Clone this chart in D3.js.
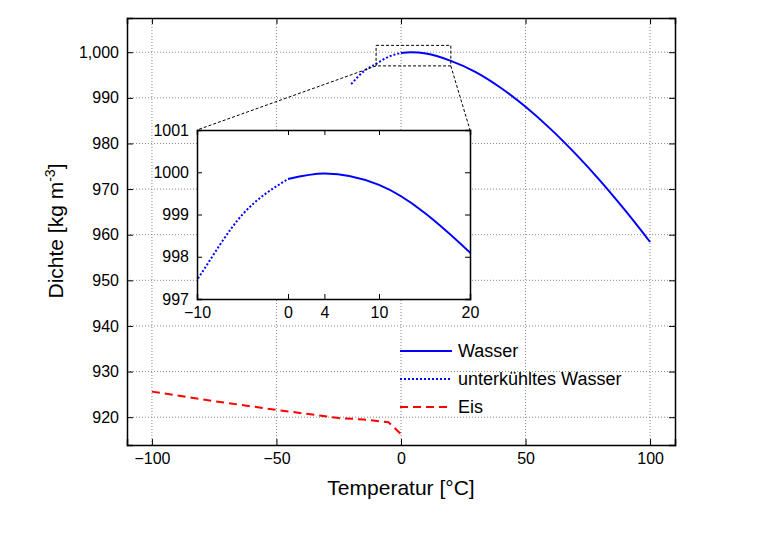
<!DOCTYPE html>
<html><head><meta charset="utf-8">
<script src="https://cdn.jsdelivr.net/npm/d3@7"></script>
<style>body{margin:0;background:#fff}text{font-family:"Liberation Sans",Arial,sans-serif}</style>
</head><body><svg id="c" width="765" height="542"></svg>
<script>
// data
const waterT = [0, 4, 10, 20, 30, 40, 50, 60, 70, 80, 90, 100];
const waterRho = [999.84, 999.97, 999.7, 998.1, 995.65, 992.22, 988.04, 983.2, 977.76, 971.8, 965.31, 958.4];
const superT = [-20, -15, -10, -5, 0];
const superRho = [993.0, 995.8, 997.45, 999.0, 999.84];
const iceT = [-100, -75, -50, -25, -15, -5, 0];
const iceRho = [925.6, 923.5, 921.6, 919.8, 919.5, 918.9, 916.3];
const xTicks = [-100, -50, 0, 50, 100];
const yTicks = [920, 930, 940, 950, 960, 970, 980, 990, 1000];
const insetXTicks = [-10, 0, 4, 10, 20];
const insetYTicks = [997, 998, 999, 1000, 1001];

const svg = d3.select("#c");
const blue = "#0000ff", red = "#ff0000";

const x = d3.scaleLinear().domain([-110, 110]).range([127, 675]);
const y = d3.scaleLinear().domain([913.9, 1007.5]).range([445, 18]);

// grid
svg.append("g").selectAll("line").data(xTicks).join("line")
  .attr("x1", d => x(d)).attr("x2", d => x(d)).attr("y1", 18).attr("y2", 445)
  .attr("stroke", "#888").attr("stroke-dasharray", "1,2");
svg.append("g").selectAll("line").data(yTicks).join("line")
  .attr("y1", d => y(d)).attr("y2", d => y(d)).attr("x1", 127).attr("x2", 675)
  .attr("stroke", "#888").attr("stroke-dasharray", "1,2");

const line = (xs, ys, sx, sy) => d3.line().curve(d3.curveMonotoneX)
  .x((d, i) => sx(xs[i])).y(d => sy(d))(ys);

svg.append("path").attr("d", line(waterT, waterRho, x, y)).attr("fill", "none").attr("stroke", blue).attr("stroke-width", 2);
svg.append("path").attr("d", line(superT, superRho, x, y)).attr("fill", "none").attr("stroke", blue).attr("stroke-width", 2).attr("stroke-dasharray", "2,2");
svg.append("path").attr("d", d3.line().x((d, i) => x(iceT[i])).y(d => y(d))(iceRho)).attr("fill", "none").attr("stroke", red).attr("stroke-width", 2).attr("stroke-dasharray", "8,5");

// axes
const ax = svg.append("g").attr("transform", "translate(0,445)").call(d3.axisBottom(x).tickValues(xTicks).tickSize(-6).tickPadding(8));
const ay = svg.append("g").attr("transform", "translate(127,0)").call(d3.axisLeft(y).tickValues(yTicks).tickSize(-6).tickPadding(8));
svg.append("g").attr("transform", "translate(0,18)").call(d3.axisTop(x).tickValues(xTicks).tickSize(-6).tickFormat(""));
svg.append("g").attr("transform", "translate(675,0)").call(d3.axisRight(y).tickValues(yTicks).tickSize(-6).tickFormat(""));
svg.selectAll(".domain").attr("stroke-width", 1.5);
svg.selectAll(".tick text").attr("font-size", 16).attr("fill", "#000");

svg.append("text").attr("x", 401).attr("y", 495).attr("text-anchor", "middle").attr("font-size", 21).text("Temperatur [°C]");
svg.append("text").attr("transform", "translate(63,231) rotate(-90)").attr("text-anchor", "middle").attr("font-size", 21)
  .html('Dichte [kg m<tspan dy="-8" font-size="14">-3</tspan><tspan dy="8">]</tspan>');

// inset
const xi = d3.scaleLinear().domain([-10, 20]).range([197, 470]);
const yi = d3.scaleLinear().domain([997, 1001]).range([299, 130]);
// zoom box and connectors
svg.append("rect").attr("x", x(-10)).attr("y", y(1001.5)).attr("width", x(20) - x(-10)).attr("height", y(997) - y(1001.5))
  .attr("fill", "none").attr("stroke", "#000").attr("stroke-dasharray", "3,2");
svg.append("line").attr("x1", x(-10)).attr("y1", y(997)).attr("x2", 197).attr("y2", 130).attr("stroke", "#000").attr("stroke-dasharray", "3,2");
svg.append("line").attr("x1", x(20)).attr("y1", y(997)).attr("x2", 470).attr("y2", 130).attr("stroke", "#000").attr("stroke-dasharray", "3,2");
svg.append("rect").attr("x", 197).attr("y", 130).attr("width", 273).attr("height", 169).attr("fill", "#fff");
const clip = svg.append("clipPath").attr("id", "ic").append("rect").attr("x", 197).attr("y", 130).attr("width", 273).attr("height", 169);
svg.append("path").attr("d", line(waterT, waterRho, xi, yi)).attr("clip-path", "url(#ic)").attr("fill", "none").attr("stroke", blue).attr("stroke-width", 2);
svg.append("path").attr("d", line(superT, superRho, xi, yi)).attr("clip-path", "url(#ic)").attr("fill", "none").attr("stroke", blue).attr("stroke-width", 2).attr("stroke-dasharray", "2,2");
svg.append("g").attr("transform", "translate(0,299)").call(d3.axisBottom(xi).tickValues(insetXTicks).tickSize(-5).tickPadding(8));
svg.append("g").attr("transform", "translate(197,0)").call(d3.axisLeft(yi).tickValues(insetYTicks).tickSize(-5).tickPadding(8).tickFormat(d3.format("d")));
svg.append("g").attr("transform", "translate(0,130)").call(d3.axisTop(xi).tickValues(insetXTicks).tickSize(-5).tickFormat(""));
svg.append("g").attr("transform", "translate(470,0)").call(d3.axisRight(yi).tickValues(insetYTicks).tickSize(-5).tickFormat(""));
svg.selectAll(".domain").attr("stroke-width", 1.5);
svg.selectAll(".tick text").attr("font-size", 16).attr("fill", "#000");

// legend
const leg = [["Wasser", blue, null], ["unterkühltes Wasser", blue, "2,2"], ["Eis", red, "8,5"]];
const lg = svg.append("g").selectAll("g").data(leg).join("g").attr("transform", (d, i) => `translate(400,${351 + i * 28})`);
lg.append("line").attr("x1", 0).attr("x2", 52).attr("stroke", d => d[1]).attr("stroke-width", 2).attr("stroke-dasharray", d => d[2]);
lg.append("text").attr("x", 58).attr("y", 6).attr("font-size", 18).text(d => d[0]);
</script></body></html>
